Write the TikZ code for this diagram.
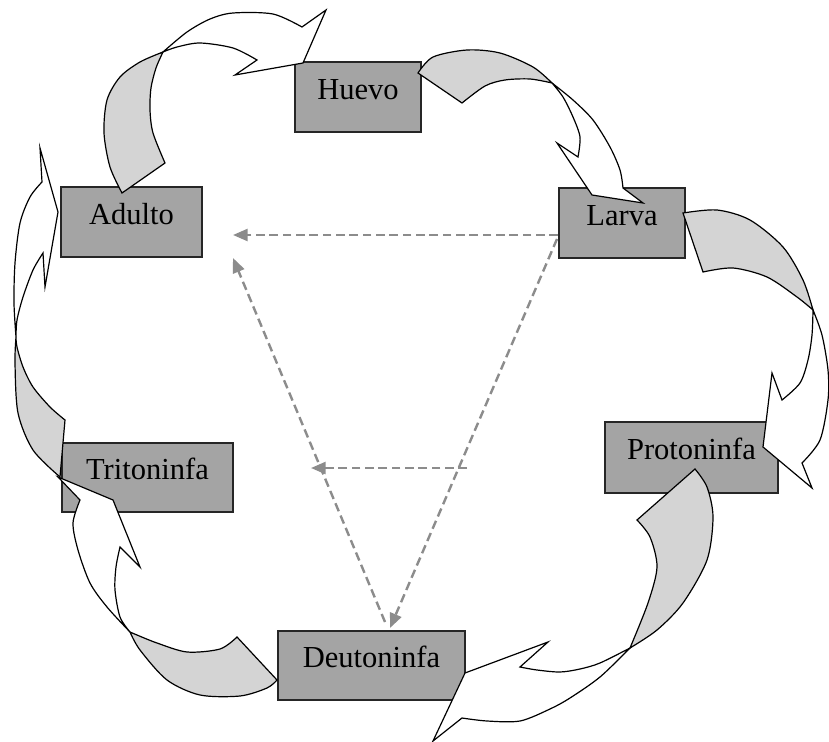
\documentclass[tikz,border=0pt]{standalone}
\usepackage{fontspec}
\setmainfont{Liberation Serif}
\usetikzlibrary{arrows.meta}
\definecolor{boxgray}{HTML}{A4A4A4}
\definecolor{twistgray}{HTML}{D4D4D4}
\definecolor{dashgray}{HTML}{8C8C8C}
\begin{document}
\begin{tikzpicture}[x=0.75pt,y=-0.75pt,
  stage/.style={draw=black!85, line width=0.9pt, fill=boxgray, inner sep=0pt, outer sep=0pt,
    font=\fontsize{22.9pt}{27pt}\selectfont, text height=0.68em, text depth=0.32em},
  bandback/.style={draw=black, line width=0.9pt, fill=twistgray, line join=miter},
  bandfront/.style={draw=black, line width=0.9pt, fill=white, line join=miter},
  dashlink/.style={draw=dashgray, line width=1.8pt, dash pattern=on 6.5pt off 3.5pt,
    -{Triangle[length=11pt,width=9pt]}}]
\useasboundingbox[fill=white] (0,0) rectangle (829,742);

% stages
\node[stage, minimum width=94.5pt, minimum height=52.5pt] (huevo) at (358,97) {Huevo};
\node[stage, minimum width=105.75pt, minimum height=52.5pt] (adulto) at (131.5,222) {Adulto};
\node[stage, minimum width=94.5pt, minimum height=52.5pt] (larva) at (622,223) {Larva};
\node[stage, minimum width=129.75pt, minimum height=53.25pt] (proto) at (691.5,457.5) {Protoninfa};
\node[stage, minimum width=128.25pt, minimum height=51.75pt] (trito) at (147.5,477.5) {Tritoninfa};
\node[stage, minimum width=140.25pt, minimum height=51.75pt] (deuto) at (371.5,665.5) {Deutoninfa};

% twisted block arrows
% Adulto -> Huevo
\filldraw[bandback] plot[smooth] coordinates {(122,193) (110,167) (104,133) (107,100) (120,77) (140,62) (163,52)}
  -- plot[smooth] coordinates {(163,52) (156,68) (151,88) (150,110) (153,133) (165,163)} -- cycle;
\filldraw[bandfront] plot[smooth] coordinates {(163,52) (187,32) (210,19) (233,13) (273,14) (302,27)}
  -- (326,10) -- (303,63) -- (235,75)
  -- plot[smooth] coordinates {(257,60) (233,48) (200,43) (177,47) (163,52)} -- cycle;

% Huevo -> Larva
\filldraw[bandback] plot[smooth] coordinates {(418,73) (433,57) (467,50) (500,53) (533,67) (552,83)}
  -- plot[smooth] coordinates {(552,83) (530,79) (505,80) (485,86) (462,103)} -- cycle;
\filldraw[bandfront] plot[smooth] coordinates {(552,83) (573,100) (593,120) (610,147) (620,170) (623,188)}
  -- (643,203) -- (592,195) -- (557,143)
  -- plot[smooth] coordinates {(578,157) (580,137) (573,117) (563,97) (552,83)} -- cycle;

% Larva -> Protoninfa
\filldraw[bandback] plot[smooth] coordinates {(683,213) (717,210) (750,220) (783,247) (803,280) (813,310)}
  -- plot[smooth] coordinates {(813,310) (797,297) (767,277) (733,268) (703,272)} -- cycle;
\filldraw[bandfront] plot[smooth] coordinates {(813,310) (822,335) (828,370) (828,400) (820,440) (802,463)}
  -- (812,488) -- (763,447) -- (772,373)
  -- plot[smooth] coordinates {(782,400) (800,383) (808,360) (812,335) (813,310)} -- cycle;

% Protoninfa -> Deutoninfa
\filldraw[bandback] plot[smooth] coordinates {(695,469) (707,487) (713,517) (707,560) (683,603) (657,630) (630,648)}
  -- plot[smooth] coordinates {(630,648) (648,603) (657,567) (650,537) (637,520)} -- cycle;
\filldraw[bandfront] plot[smooth] coordinates {(630,648) (600,677) (570,698) (550,709) (520,721) (487,721) (462,718)}
  -- (433,741) -- (465,673) -- (548,642)
  -- plot[smooth] coordinates {(520,667) (537,670) (560,672) (580,669) (600,663) (630,648)} -- cycle;

% Tritoninfa -> Adulto
\filldraw[bandback] plot[smooth] coordinates {(65,420) (50,407) (33,387) (23,367) (17,347) (16,337)}
  -- plot[smooth] coordinates {(16,337) (15,363) (18,413) (33,450) (60,477)} -- cycle;
\filldraw[bandfront] plot[smooth] coordinates {(16,337) (14,303) (15,263) (20,223) (30,197) (42,182)}
  -- (40,148) -- (58,212) -- (45,287)
  -- plot[smooth] coordinates {(43,253) (33,270) (23,297) (17,320) (16,337)} -- cycle;

% Deutoninfa -> Tritoninfa
\filldraw[bandback] plot[smooth] coordinates {(277,680) (267,688) (240,696) (200,695) (167,680) (140,650) (130,632)}
  -- plot[smooth] coordinates {(130,632) (137,635) (157,643) (187,652) (220,649) (237,637)} -- cycle;
\filldraw[bandfront] plot[smooth] coordinates {(130,632) (107,607) (90,583) (78,550) (73,523) (80,500)}
  -- (58,477) -- (113,500) -- (140,567)
  -- plot[smooth] coordinates {(120,547) (116,567) (115,590) (120,617) (130,632)} -- cycle;

% dashed relations
\coordinate (ls1) at (558,235);
\coordinate (ae1) at (233,235);
\coordinate (ls2) at (557,239);
\coordinate (de1) at (390,628);
\coordinate (ds1) at (385,622);
\coordinate (ae2) at (233,258);
\coordinate (ms1) at (467,468);
\coordinate (me1) at (311,468);
\draw[dashlink] (ls1) -- (ae1);
\draw[dashlink] (ls2) -- (de1);
\draw[dashlink] (ds1) -- (ae2);
\draw[dashlink] (ms1) -- (me1);
\end{tikzpicture}
\end{document}
